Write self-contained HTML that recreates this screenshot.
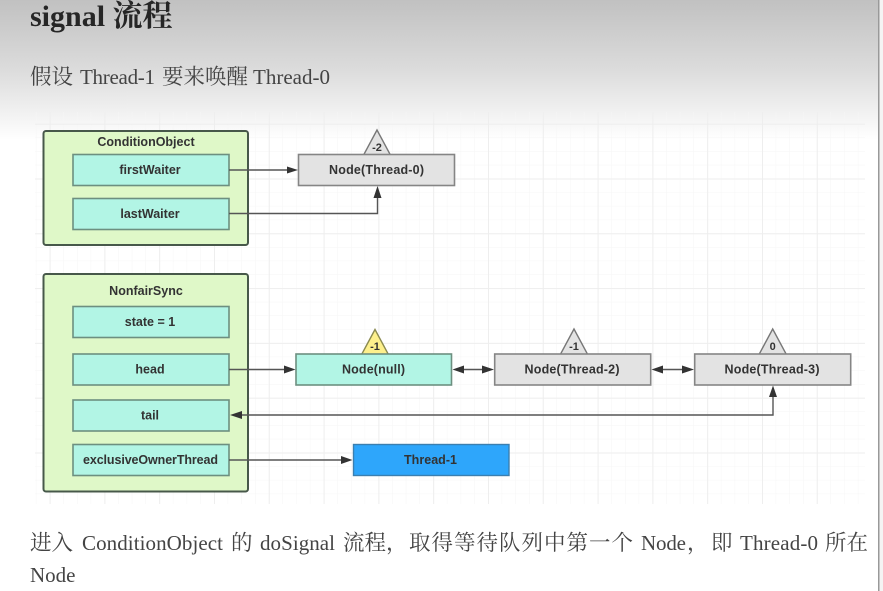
<!DOCTYPE html>
<html><head><meta charset="utf-8">
<style>
html,body{margin:0;padding:0;background:#fff}
svg{display:block;filter:blur(0.35px)}
.t{font-family:"Liberation Serif","Noto Serif CJK SC",serif;fill:#444;font-size:21px}
.c{font-size:21.5px}
.d{font-family:"Liberation Sans","Noto Sans CJK SC",sans-serif;font-size:12.500px;font-weight:bold;fill:#333;text-anchor:middle}
.s{font-size:11px}
.g{stroke:#eeeeee;stroke-width:1;fill:none}
.mn{stroke:#f6f6f6;stroke-width:1;fill:none}
.f{fill:#b2f5e5;stroke:#6d8f80;stroke-width:1.6}
.n{fill:#e3e3e3;stroke:#858585;stroke-width:1.6}
.tr{fill:#e3e3e3;stroke:#777;stroke-width:1.4}
.l{stroke:#555;stroke-width:1.4;fill:none}
.a{fill:#333}
</style></head>
<body>
<svg width="883" height="591" viewBox="0 0 883 591" xmlns="http://www.w3.org/2000/svg">
<defs>
<linearGradient id="bg" x1="0" y1="0" x2="0" y2="1">
<stop offset="0" stop-color="#c1c1c1"/>
<stop offset="0.5" stop-color="#dcdcdc"/>
<stop offset="0.9" stop-color="#f8f8f8"/>
<stop offset="1" stop-color="#ffffff"/>
</linearGradient>
<pattern id="minor" x="35.9" y="110" width="13.7" height="13.7" patternUnits="userSpaceOnUse">
<path d="M0 0V13.7M0 0H13.7" class="mn"/>
</pattern>
<pattern id="major" x="49.6" y="123.7" width="54.8" height="54.8" patternUnits="userSpaceOnUse">
<path d="M0.5 0V54.8M0 0.5H54.8" class="g"/>
</pattern>
</defs>
<rect width="883" height="591" fill="#fff"/>
<rect width="883" height="140" fill="url(#bg)"/>
<rect x="35" y="112" width="830" height="392" fill="url(#minor)"/>
<rect x="35" y="112" width="830" height="392" fill="url(#major)"/>
<rect x="878" y="0" width="1.5" height="591" fill="#999"/>
<rect x="879.5" y="0" width="3.5" height="591" fill="#f4f4f4"/>

<text class="t" x="30" y="26" font-weight="bold" style="fill:#262626;font-size:30px">signal 流程</text>

<text class="t c" x="30" y="84">假设</text>
<text class="t" x="80" y="84" textLength="75">Thread-1</text>
<text class="t c" x="162" y="84">要来唤醒</text>
<text class="t" x="253" y="84">Thread-0</text>

<text class="t c" x="30" y="550">进入</text>
<text class="t" x="82" y="550" textLength="141">ConditionObject</text>
<text class="t c" x="231" y="550">的</text>
<text class="t" x="260" y="550" textLength="75">doSignal</text>
<text class="t c" x="343" y="550">流程</text>
<text class="t c" x="386" y="550">，</text>
<text class="t c" x="409" y="550" textLength="224">取得等待队列中第一个</text>
<text class="t" x="641" y="550" textLength="45">Node</text>
<text class="t c" x="687" y="550">，</text>
<text class="t c" x="711" y="550">即</text>
<text class="t" x="740" y="550" textLength="78">Thread-0</text>
<text class="t c" x="825" y="550">所在</text>
<text class="t" x="30" y="582">Node</text>

<!-- ConditionObject -->
<rect x="43.5" y="131" width="204.5" height="114" rx="2.5" fill="#dff8c8" stroke="#47584a" stroke-width="2"/>
<text class="d" x="146" y="146">ConditionObject</text>
<rect class="f" x="73" y="154.5" width="156" height="31"/>
<text class="d" x="150" y="174">firstWaiter</text>
<rect class="f" x="73" y="198.5" width="156" height="31"/>
<text class="d" x="150" y="218">lastWaiter</text>

<polygon class="tr" points="377,130 362.5,157 391.5,157"/>
<text class="d s" x="377" y="151">-2</text>
<rect class="n" x="298.5" y="154.5" width="156" height="31"/>
<text class="d" x="376.500" y="174" textLength="95">Node(Thread-0)</text>

<path class="l" d="M229 170H288"/>
<polygon class="a" points="298,170 287,166.500 287,173.500"/>
<path class="l" d="M229 213.500H377.500V197"/>
<polygon class="a" points="377.500,186 373.500,198 381.500,198"/>

<!-- NonfairSync -->
<rect x="43.5" y="274" width="204.500" height="217.500" rx="2.500" fill="#dff8c8" stroke="#47584a" stroke-width="2"/>
<text class="d" x="146" y="295">NonfairSync</text>
<rect class="f" x="73" y="306.500" width="156" height="31"/>
<text class="d" x="150" y="326">state = 1</text>
<rect class="f" x="73" y="354" width="156" height="31"/>
<text class="d" x="150" y="373.500">head</text>
<rect class="f" x="73" y="400" width="156" height="31"/>
<text class="d" x="150" y="419.500">tail</text>
<rect class="f" x="73" y="444.500" width="156" height="31"/>
<text class="d" x="150.500" y="464" textLength="135">exclusiveOwnerThread</text>

<polygon points="375,329.500 360.500,356.500 389.500,356.500" fill="#fdf08c" stroke="#8a8a50" stroke-width="1.400"/>
<text class="d s" x="375" y="350">-1</text>
<rect class="f" x="296" y="354" width="155.500" height="31"/>
<text class="d" x="373.500" y="373.500" textLength="63">Node(null)</text>

<polygon class="tr" points="574,329 559.500,356 588.500,356"/>
<text class="d s" x="574" y="350">-1</text>
<rect class="n" x="494.700" y="354" width="156" height="31"/>
<text class="d" x="572" y="373.500" textLength="95">Node(Thread-2)</text>

<polygon class="tr" points="772.700,329 758.200,356 787.200,356"/>
<text class="d s" x="772.700" y="350">0</text>
<rect class="n" x="694.700" y="354" width="156" height="31"/>
<text class="d" x="772" y="373.500" textLength="95">Node(Thread-3)</text>

<rect x="353.500" y="444.500" width="155.500" height="31" fill="#2ea6fb" stroke="#3b7fb0" stroke-width="1.400"/>
<text class="d" x="430.500" y="464" textLength="53">Thread-1</text>

<path class="l" d="M229 369.500H286"/>
<polygon class="a" points="295.500,369.500 284,365.500 284,373.500"/>
<path class="l" d="M462 369.500H484"/>
<polygon class="a" points="452.500,369.500 464,365.500 464,373.500"/>
<polygon class="a" points="494,369.500 482,365.500 482,373.500"/>
<path class="l" d="M661 369.500H684"/>
<polygon class="a" points="651.500,369.500 663,365.500 663,373.500"/>
<polygon class="a" points="694,369.500 682,365.500 682,373.500"/>
<path class="l" d="M240 415H773V396"/>
<polygon class="a" points="230,415 242,411 242,419"/>
<polygon class="a" points="773,385.500 769,397 777,397"/>
<path class="l" d="M229 460H343"/>
<polygon class="a" points="352.500,460 341,456 341,464"/>
</svg>
</body></html>
